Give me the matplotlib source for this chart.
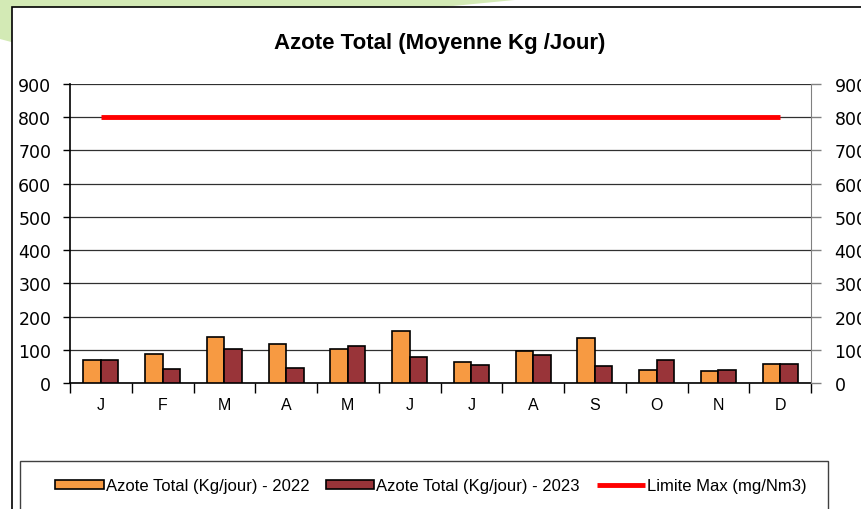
import matplotlib
matplotlib.use("Agg")
import matplotlib.pyplot as plt
from matplotlib.patches import Rectangle, Polygon

months = ["J", "F", "M", "A", "M", "J", "J", "A", "S", "O", "N", "D"]
azote_2022 = [70, 88, 139, 117, 103, 158, 62, 96, 134, 40, 35, 56]
azote_2023 = [70, 43, 101, 46, 111, 79, 54, 85, 51, 68, 40, 56]
limite_max = [800] * 12
y_ticks = [0, 100, 200, 300, 400, 500, 600, 700, 800, 900]

W, H = 861, 510
plt.rcParams["font.family"] = ["Liberation Sans", "DejaVu Sans"]
fig = plt.figure(figsize=(W / 100, H / 100), dpi=100)


def px(x, y):
    # pixel coords (top-left origin) -> figure fraction
    return x / W, 1 - y / H


# green decoration behind the chart panel
fig.patches.append(Polygon([px(0, 0), px(525, 0), px(30, 48), px(0, 40)],
                           closed=True, transform=fig.transFigure,
                           facecolor="#d3eab5", edgecolor="none", zorder=0))
fig.patches.append(Rectangle(px(12, 520), 900 / W, 512 / H,
                             transform=fig.transFigure, facecolor="white",
                             edgecolor="black", linewidth=1.2, zorder=1))

ax = fig.add_axes([70 / W, 126 / H, 741 / W, 299 / H])
ax.set_zorder(2)
ax.patch.set_alpha(0)

x = list(range(len(months)))
bw = 0.283
b1 = ax.bar([i - bw / 2 for i in x], azote_2022, width=bw, color="#f79a42",
            edgecolor="black", linewidth=1.2, label="Azote Total (Kg/jour) - 2022", zorder=3)
b2 = ax.bar([i + bw / 2 for i in x], azote_2023, width=bw, color="#993439",
            edgecolor="black", linewidth=1.2, label="Azote Total (Kg/jour) - 2023", zorder=3)
ln, = ax.plot(x, limite_max, color="#ff0000", linewidth=3.5, solid_capstyle="butt",
              label="Limite Max (mg/Nm3)", zorder=4)

ax.set_xlim(-0.5, 11.5)
ax.set_ylim(0, 900)
ax.set_yticks(y_ticks)
ax.set_yticklabels([str(v) for v in y_ticks], fontsize=12.5, family="DejaVu Sans")
ax.yaxis.grid(True, color="#303030", linewidth=0.9)
ax.set_axisbelow(True)
ax.tick_params(axis="y", length=5, width=1, pad=8.5)

ax.set_xticks(x)
ax.set_xticklabels(months, fontsize=11.5)
ax.set_xticks([i - 0.5 for i in range(13)], minor=True)
ax.tick_params(axis="x", which="major", length=0, pad=10)
ax.tick_params(axis="x", which="minor", length=7, width=1)

for side in ["left", "bottom"]:
    ax.spines[side].set_color("black")
    ax.spines[side].set_linewidth(1.2)
ax.spines["top"].set_visible(False)
ax.spines["right"].set_visible(False)

# right axis, same scale (labels run off the right edge as in the original)
ax2 = ax.twinx()
ax2.set_ylim(0, 900)
ax2.set_yticks(y_ticks)
ax2.set_yticklabels([str(v) for v in y_ticks], fontsize=12.5, family="DejaVu Sans")
ax2.tick_params(axis="y", length=7, width=1, color="#808080", pad=10)
for side in ["left", "bottom", "top"]:
    ax2.spines[side].set_visible(False)
ax2.spines["right"].set_color("#808080")

fig.text(440 / W, 1 - 44 / H, "Azote Total (Moyenne Kg /Jour)", ha="center",
         va="center", fontsize=16, fontweight="bold")

# legend box
fig.patches.append(Rectangle(px(20, 530), 808 / W, 68 / H,
                             transform=fig.transFigure, facecolor="none",
                             edgecolor="#404040", linewidth=1, zorder=3))
fig.legend(handles=[b1, b2, ln], loc="center", bbox_to_anchor=(431 / W, 1 - 487 / H),
           ncol=3, frameon=False, fontsize=12, handlelength=2.9, handleheight=0.5,
           handletextpad=0.12, columnspacing=1.0)

fig.savefig("out.png", dpi=100)
